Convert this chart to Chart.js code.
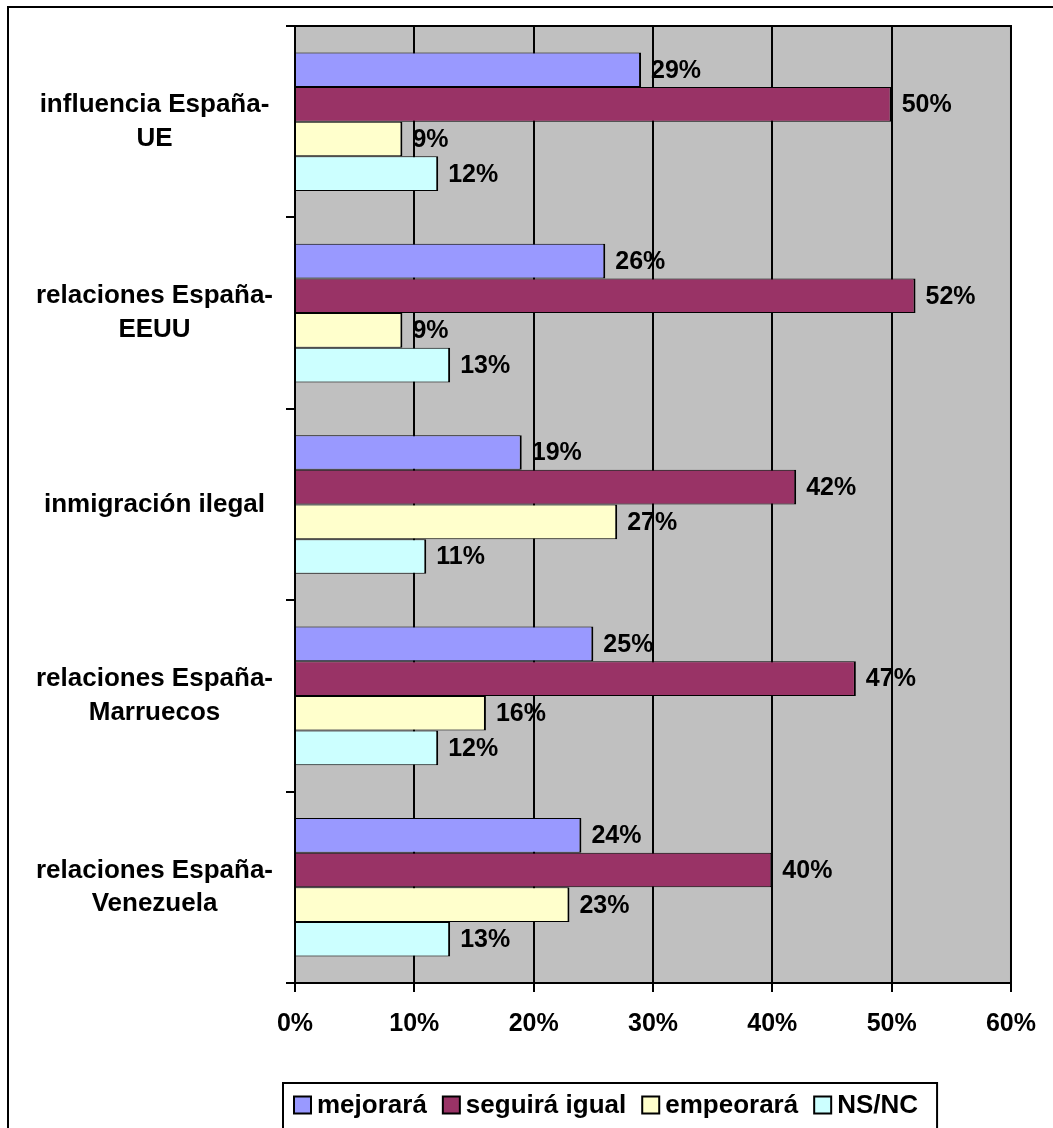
<!DOCTYPE html>
<html>
<head>
<meta charset="utf-8">
<script src="https://cdn.jsdelivr.net/npm/chart.js@4/dist/chart.umd.min.js"></script>
<style>
    html, body { margin: 0; padding: 0; background: #ffffff; }
    #wrap { width: 1053px; height: 1128px; }
</style>
</head>
<body>
<div id="wrap"><canvas id="surveyChart" width="1053" height="1128"></canvas></div>
<script>
// categories (y axis), multi-line labels as in the original
var categories = [
    ['influencia España-', 'UE'],
    ['relaciones España-', 'EEUU'],
    'inmigración ilegal',
    ['relaciones España-', 'Marruecos'],
    ['relaciones España-', 'Venezuela']
];

// series values, in %
var mejorara     = [29, 26, 19, 25, 24];
var seguiraIgual = [50, 52, 42, 47, 40];
var empeorara    = [9, 9, 27, 16, 23];
var nsnc         = [12, 13, 11, 12, 13];

var seriesNames  = ['mejorará', 'seguirá igual', 'empeorará', 'NS/NC'];
var seriesColors = ['#9999FF', '#993366', '#FFFFCC', '#CCFFFF'];

// x axis ticks
var xMin = 0, xMax = 60, xStep = 10;

var FONT = "'Liberation Sans', Arial, sans-serif";

(function() {
    var seriesData = [mejorara, seguiraIgual, empeorara, nsnc];

    var datasets = seriesData.map(function(values, i) {
        return {
            label: seriesNames[i],
            data: values,
            backgroundColor: seriesColors[i],
            borderColor: '#000000',
            borderWidth: { top: 1, bottom: 1, right: 2, left: 0 },
            borderSkipped: 'start',
            categoryPercentage: 0.724,
            barPercentage: 1.0
        };
    });

    // white page, grey plot area, outer frame
    var backgroundPlugin = {
        id: 'background',
        beforeDraw: function(chart) {
            var ctx = chart.ctx, a = chart.chartArea;
            ctx.save();
            ctx.fillStyle = '#ffffff';
            ctx.fillRect(0, 0, chart.width, chart.height);
            ctx.fillStyle = '#C0C0C0';
            ctx.fillRect(a.left, a.top, a.right - a.left, a.bottom - a.top);
            ctx.strokeStyle = '#000000';
            ctx.lineWidth = 2;
            ctx.strokeRect(8, 7, chart.width + 20, chart.height + 20);
            ctx.restore();
        }
    };

    // value labels at the end of each bar
    var valueLabels = {
        id: 'valueLabels',
        afterDatasetsDraw: function(chart) {
            var ctx = chart.ctx;
            ctx.save();
            ctx.font = 'bold 25px ' + FONT;
            ctx.fillStyle = '#000000';
            ctx.textAlign = 'left';
            ctx.textBaseline = 'middle';
            chart.data.datasets.forEach(function(ds, i) {
                chart.getDatasetMeta(i).data.forEach(function(bar, j) {
                    ctx.fillText(ds.data[j] + '%', bar.x + 10, bar.y + 1);
                });
            });
            ctx.restore();
        }
    };

    // plot frame + legend box at the bottom
    var frameAndLegend = {
        id: 'frameAndLegend',
        afterDraw: function(chart) {
            var ctx = chart.ctx, a = chart.chartArea;
            ctx.save();
            ctx.strokeStyle = '#000000';
            ctx.lineWidth = 2;
            ctx.strokeRect(a.left, a.top, a.right - a.left, a.bottom - a.top);

            ctx.font = 'bold 26px ' + FONT;
            ctx.textAlign = 'left';
            ctx.textBaseline = 'middle';
            var x = 294, yMid = 1105, box = 17;
            chart.data.datasets.forEach(function(ds, i) {
                ctx.fillStyle = ds.backgroundColor;
                ctx.fillRect(x, yMid - box / 2, box, box);
                ctx.lineWidth = 2;
                ctx.strokeRect(x, yMid - box / 2, box, box);
                x += box + 6;
                ctx.fillStyle = '#000000';
                ctx.fillText(ds.label, x, yMid + 1);
                x += ctx.measureText(ds.label).width;
                if (i < chart.data.datasets.length - 1) x += 16;
            });
            ctx.lineWidth = 2;
            ctx.strokeRect(283, 1083, x + 19 - 283, 80);
            ctx.restore();
        }
    };

    var ctx = document.getElementById('surveyChart').getContext('2d');

    new Chart(ctx, {
        type: 'bar',
        data: {
            labels: categories,
            datasets: datasets
        },
        options: {
            indexAxis: 'y',
            responsive: false,
            animation: false,
            layout: {
                padding: { left: 0, top: 26, right: 42, bottom: 85 }
            },
            plugins: {
                legend: { display: false },
                tooltip: { enabled: false }
            },
            scales: {
                x: {
                    min: xMin,
                    max: xMax,
                    afterFit: function(scale) { scale.height = 60; },
                    ticks: {
                        stepSize: xStep,
                        color: '#000000',
                        padding: 17,
                        font: { family: FONT, size: 25, weight: 'bold' },
                        callback: function(v) { return v + '%'; }
                    },
                    grid: {
                        color: '#000000',
                        lineWidth: 2,
                        tickLength: 9,
                        drawOnChartArea: true
                    },
                    border: { display: true, color: '#000000', width: 2 }
                },
                y: {
                    afterFit: function(scale) {
                        scale.width = 295;
                        // no extra room for the two-line labels above/below the plot
                        scale.paddingTop = 0;
                        scale.paddingBottom = 0;
                    },
                    ticks: {
                        color: '#000000',
                        padding: 13,
                        crossAlign: 'center',
                        font: { family: FONT, size: 26, weight: 'bold', lineHeight: 1.3 }
                    },
                    grid: {
                        offset: true,
                        color: '#000000',
                        lineWidth: 2,
                        tickLength: 9,
                        drawOnChartArea: false
                    },
                    border: { display: true, color: '#000000', width: 2 }
                }
            }
        },
        plugins: [backgroundPlugin, valueLabels, frameAndLegend]
    });
})();
</script>
</body>
</html>
